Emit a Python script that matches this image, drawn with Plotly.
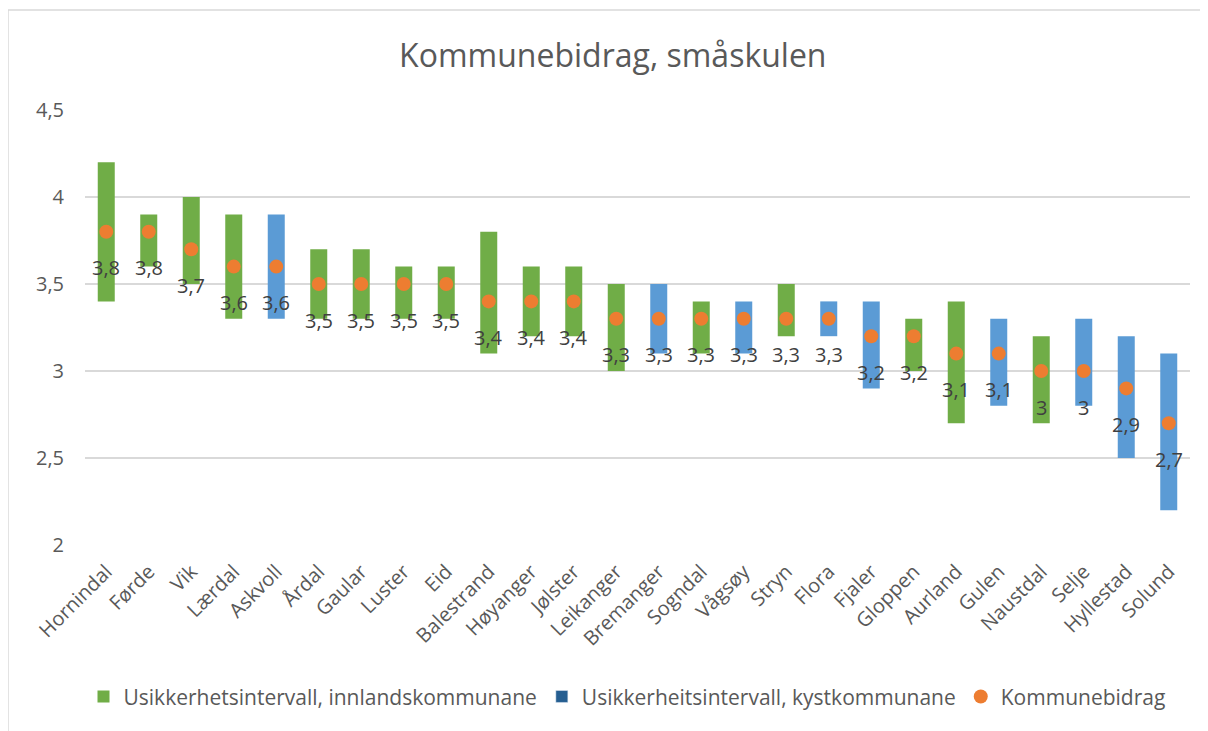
import plotly.graph_objects as go

kommunar = ["Hornindal", "Førde", "Vik", "Lærdal", "Askvoll", "Årdal", "Gaular", "Luster", "Eid",
            "Balestrand", "Høyanger", "Jølster", "Leikanger", "Bremanger", "Sogndal", "Vågsøy",
            "Stryn", "Flora", "Fjaler", "Gloppen", "Aurland", "Gulen", "Naustdal", "Selje",
            "Hyllestad", "Solund"]
kommunebidrag = [3.8, 3.8, 3.7, 3.6, 3.6, 3.5, 3.5, 3.5, 3.5, 3.4, 3.4, 3.4, 3.3, 3.3, 3.3, 3.3,
                 3.3, 3.3, 3.2, 3.2, 3.1, 3.1, 3.0, 3.0, 2.9, 2.7]
nedre = [3.4, 3.6, 3.5, 3.3, 3.3, 3.3, 3.3, 3.3, 3.3, 3.1, 3.2, 3.2, 3.0, 3.1, 3.1, 3.1,
         3.2, 3.2, 2.9, 3.0, 2.7, 2.8, 2.7, 2.8, 2.5, 2.2]
ovre = [4.2, 3.9, 4.0, 3.9, 3.9, 3.7, 3.7, 3.6, 3.6, 3.8, 3.6, 3.6, 3.5, 3.5, 3.4, 3.4,
        3.5, 3.4, 3.4, 3.3, 3.4, 3.3, 3.2, 3.3, 3.2, 3.1]
type_kommune = ["inn", "inn", "inn", "inn", "kyst", "inn", "inn", "inn", "inn", "inn", "inn", "inn",
                "inn", "kyst", "inn", "kyst", "inn", "kyst", "kyst", "inn", "inn", "kyst", "inn",
                "kyst", "kyst", "kyst"]

FONT = "Open Sans"
GREEN = "#70AD47"
BLUE = "#5B9BD5"
BLUE_LEG = "#255E91"
ORANGE = "#ED7D31"


def pick(kind):
    base = [lo if t == kind else None for lo, t in zip(nedre, type_kommune)]
    h = [hi - lo if t == kind else None for lo, hi, t in zip(nedre, ovre, type_kommune)]
    return base, h


fig = go.Figure()
b_inn, h_inn = pick("inn")
b_kyst, h_kyst = pick("kyst")
fig.add_trace(go.Bar(x=kommunar, y=h_inn, base=b_inn, width=0.4, marker_color=GREEN,
                     marker_line_width=0, name="Usikkerhetsintervall, innlandskommunane"))
fig.add_trace(go.Bar(x=kommunar, y=h_kyst, base=b_kyst, width=0.4, marker_color=BLUE,
                     marker_line_width=0, name="Usikkerheitsintervall, kystkommunane",
                     showlegend=False))
# legend-only entry (legend swatch is darker in the original)
fig.add_trace(go.Bar(x=[kommunar[0]], y=[None], marker_color=BLUE_LEG,
                     name="Usikkerheitsintervall, kystkommunane"))
fig.add_trace(go.Scatter(x=kommunar, y=kommunebidrag, mode="markers",
                         marker=dict(color=ORANGE, size=14, line_width=0),
                         name="Kommunebidrag"))

for k, v in zip(kommunar, kommunebidrag):
    txt = ("%g" % v).replace(".", ",")
    fig.add_annotation(x=k, y=v, text=txt, showarrow=False, yshift=-36,
                       font=dict(family=FONT, size=20, color="#404040"))

# outer chart border
fig.add_shape(type="rect", xref="paper", yref="paper", x0=-0.0697, x1=1.0154, y0=-0.45, y1=1.2299,
              line=dict(color="#D9D9D9", width=1.5), fillcolor="rgba(0,0,0,0)", layer="below")

fig.update_layout(
    width=1200, height=723,
    margin=dict(l=77, r=18, t=102, b=186),
    paper_bgcolor="white", plot_bgcolor="white",
    separators=", ",
    barmode="overlay",
    title=dict(text="Kommunebidrag, småskulen", x=0.504, xref="container", xanchor="center",
               y=0.934, yanchor="middle",
               font=dict(family=FONT, size=32, color="#595959")),
    font=dict(family=FONT, size=20, color="#595959"),
    legend=dict(orientation="h", x=0.4905, xanchor="center", y=-0.349, yanchor="middle",
                font=dict(family=FONT, size=21, color="#595959"), itemwidth=30,
                traceorder="normal"),
    xaxis=dict(tickangle=-45, tickfont=dict(size=20), showgrid=False, showline=False,
               ticks="", range=[-0.5, len(kommunar) - 0.5], ticklabelstandoff=10),
    yaxis=dict(range=[2, 4.5], dtick=0.5, tick0=2, showgrid=True, gridcolor="#D9D9D9",
               gridwidth=1.5, zeroline=False, showline=False, ticks="",
               tickfont=dict(size=20), ticklabelstandoff=20),
)

fig.write_html("out.html")
